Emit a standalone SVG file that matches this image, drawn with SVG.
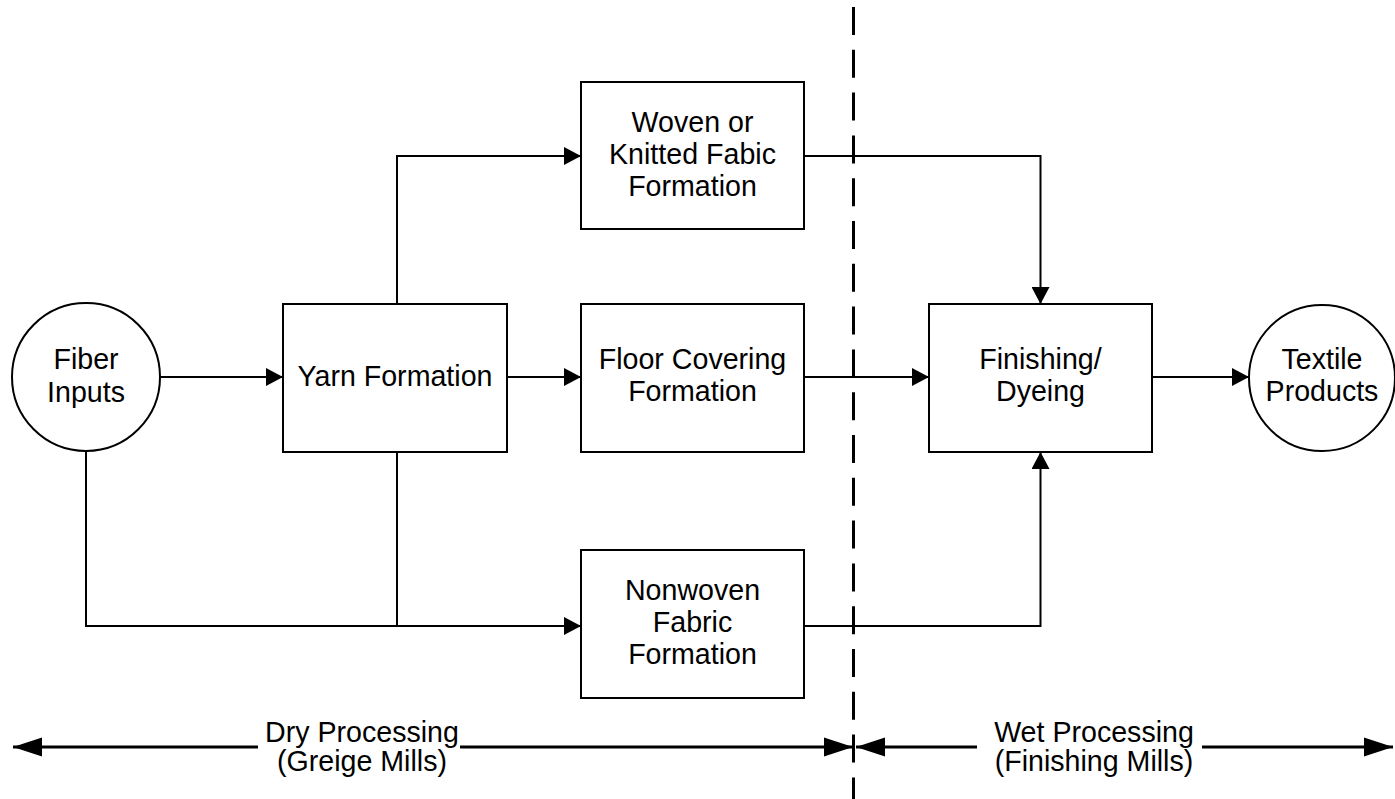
<svg xmlns="http://www.w3.org/2000/svg" width="1395" height="799" viewBox="0 0 1395 799">
<style>
.box{fill:#fff;stroke:#000;stroke-width:2}
.t{font-family:"Liberation Sans",Arial,sans-serif;font-size:28.6px;text-anchor:middle;fill:#000}
.c{fill:none;stroke:#000;stroke-width:2;marker-end:url(#a)}
.cn{fill:none;stroke:#000;stroke-width:2}
.b{fill:none;stroke:#000;stroke-width:3;marker-end:url(#ab)}
</style>
<defs>
<marker id="a" markerUnits="userSpaceOnUse" markerWidth="17" markerHeight="18" refX="17" refY="9" orient="auto" viewBox="0 0 17 18"><path d="M0,0 L17,9 L0,18 z" fill="#000"/></marker>
<marker id="ab" markerUnits="userSpaceOnUse" markerWidth="29" markerHeight="20" refX="29" refY="10" orient="auto" viewBox="0 0 29 20"><path d="M0,0.5 L29,10 L0,19.5 z" fill="#000"/></marker>
</defs>
<rect width="1395" height="799" fill="#fff"/>
<g id="divider"><line x1="853.5" y1="7" x2="853.5" y2="799" stroke="#000" stroke-width="3" stroke-dasharray="28 14.8"/></g>
<g id="connectors">
<path class="c" d="M160 377 H283"/>
<path class="c" d="M507 377 H581"/>
<path class="c" d="M804 377 H929"/>
<path class="c" d="M1152 377 H1249"/>
<path class="c" d="M397 304 V156 H581"/>
<path class="c" d="M804 156 H1040.5 V304"/>
<path class="c" d="M86 451 V626 H581"/>
<path class="cn" d="M397 452 V626"/>
<path class="c" d="M804 626 H1040.5 V452"/>
</g>
<g id="fiber"><circle class="box" cx="86" cy="377" r="74"/><text class="t" x="86" y="369">Fiber</text><text class="t" x="86" y="402">Inputs</text></g>
<g id="yarn"><rect class="box" x="283" y="304" width="224" height="148"/><text class="t" x="395" y="386">Yarn Formation</text></g>
<g id="woven"><rect class="box" x="581" y="82" width="223" height="147"/><text class="t" x="692.5" y="132">Woven or</text><text class="t" x="692.5" y="164">Knitted Fabic</text><text class="t" x="692.5" y="196">Formation</text></g>
<g id="floor"><rect class="box" x="581" y="304" width="223" height="148"/><text class="t" x="692.5" y="369">Floor Covering</text><text class="t" x="692.5" y="401">Formation</text></g>
<g id="nonwoven"><rect class="box" x="581" y="550" width="223" height="148"/><text class="t" x="692.5" y="600">Nonwoven</text><text class="t" x="692.5" y="632">Fabric</text><text class="t" x="692.5" y="664">Formation</text></g>
<g id="finishing"><rect class="box" x="929" y="304" width="223" height="148"/><text class="t" x="1040.5" y="369">Finishing/</text><text class="t" x="1040.5" y="401">Dyeing</text></g>
<g id="textile"><circle class="box" cx="1322" cy="378" r="73"/><text class="t" x="1322" y="369">Textile</text><text class="t" x="1322" y="401">Products</text></g>
<g id="dry">
<path class="b" d="M258 747 H13"/>
<path class="b" d="M460 747 H853"/>
<text class="t" x="362" y="742">Dry Processing</text><text class="t" x="362" y="771">(Greige Mills)</text>
</g>
<g id="wet">
<path class="b" d="M977 747 H856"/>
<path class="b" d="M1202 747 H1393"/>
<text class="t" x="1094" y="742">Wet Processing</text><text class="t" x="1094" y="771">(Finishing Mills)</text>
</g>
</svg>
